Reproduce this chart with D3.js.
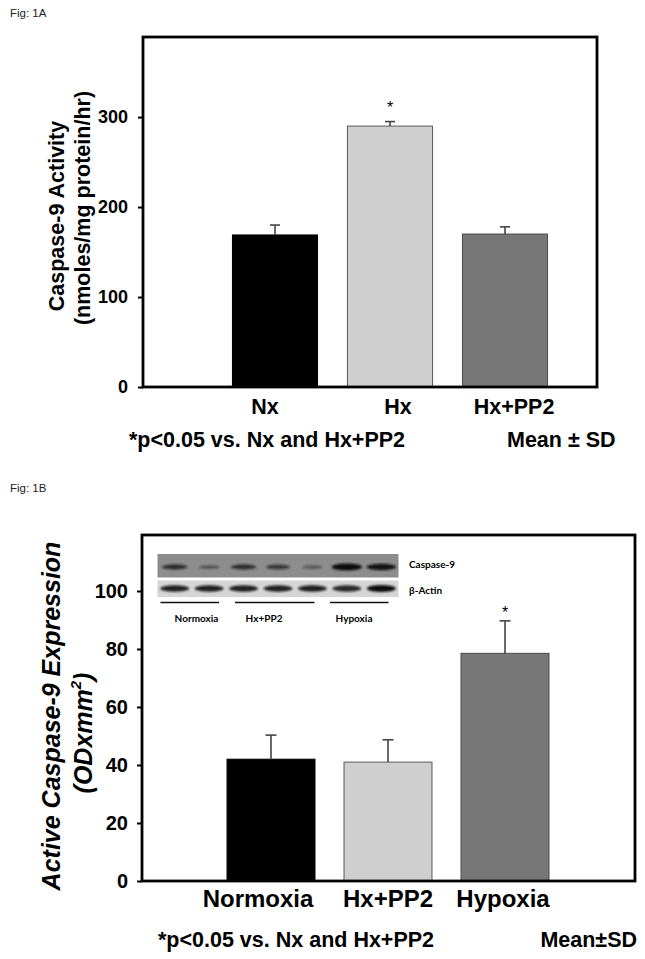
<!DOCTYPE html>
<html>
<head>
<meta charset="utf-8">
<script src="https://cdn.jsdelivr.net/npm/d3@7"></script>
<style>
  html, body { margin: 0; padding: 0; background: #fff; }
  svg { display: block; }
</style>
</head>
<body>
<svg id="chart" width="645" height="959"></svg>
<script>
// ---------- DATA ----------
// Figure 1A
const catsA = ["Nx", "Hx", "Hx+PP2"];
const meansA = [169, 290, 170];
const sdA = [11, 5, 8];
const sigA = [false, true, false];
const ticksA = [0, 100, 200, 300];

// Figure 1B
const catsB = ["Normoxia", "Hx+PP2", "Hypoxia"];
const meansB = [42, 41, 78.5];
const sdB = [8.3, 7.7, 11.2];
const sigB = [false, false, true];
const ticksB = [0, 20, 40, 60, 80, 100];

// Western blot inset (relative band intensities per lane)
const lanes = [1, 2, 3, 4, 5, 6, 7];
const caspaseBand = [0.65, 0.3, 0.65, 0.55, 0.25, 1.0, 0.95];
const actinBand = [0.9, 0.9, 0.9, 0.9, 0.9, 0.85, 1.0];
const laneGroups = ["Normoxia", "Hx+PP2", "Hypoxia"];
const blotRows = ["Caspase-9", "β-Actin"];

// ---------- DRAW ----------
const svg = d3.select("#chart");
const fills = ["#000000", "#cfcfcf", "#777777"];
const strokes = ["#000000", "#5a5a5a", "#4a4a4a"];
const fillsB = ["#000000", "#cfcfcf", "#777777"];

const defs = svg.append("defs");
defs.append("filter").attr("id", "blur").attr("x", "-30%").attr("y", "-100%").attr("width", "160%").attr("height", "300%")
  .append("feGaussianBlur").attr("stdDeviation", 1.1);

svg.append("text").attr("x", 10).attr("y", 17)
  .attr("font-family", "Liberation Sans, Arial, sans-serif").attr("font-size", 11.5)
  .attr("fill", "#222").text("Fig:  1A");
svg.append("text").attr("x", 10).attr("y", 492)
  .attr("font-family", "Liberation Sans, Arial, sans-serif").attr("font-size", 11.5)
  .attr("fill", "#222").text("Fig:  1B");

function barChart(o) {
  const g = svg.append("g");
  const y = d3.scaleLinear().domain(o.yDomain).range([o.bottom, o.top]);
  const x = d3.scaleBand().domain(o.cats).range(o.xRange)
    .paddingInner(o.padInner).paddingOuter(o.padInner / 2);

  // bars
  g.selectAll("rect.bar").data(o.cats).join("rect")
    .attr("class", "bar")
    .attr("x", d => x(d))
    .attr("width", x.bandwidth())
    .attr("y", (d, i) => y(o.means[i]))
    .attr("height", (d, i) => y(0) - y(o.means[i]))
    .attr("fill", (d, i) => o.fills[i])
    .attr("stroke", (d, i) => o.strokes[i])
    .attr("stroke-width", 1);

  // error bars (upper)
  const eb = g.selectAll("g.eb").data(o.cats).join("g").attr("class", "eb");
  eb.append("line")
    .attr("x1", d => x(d) + x.bandwidth() / 2).attr("x2", d => x(d) + x.bandwidth() / 2)
    .attr("y1", (d, i) => y(o.means[i])).attr("y2", (d, i) => y(o.means[i] + o.sd[i]))
    .attr("stroke", "#444").attr("stroke-width", 1.6);
  eb.append("line")
    .attr("x1", d => x(d) + x.bandwidth() / 2 - o.cap).attr("x2", d => x(d) + x.bandwidth() / 2 + o.cap)
    .attr("y1", (d, i) => y(o.means[i] + o.sd[i])).attr("y2", (d, i) => y(o.means[i] + o.sd[i]))
    .attr("stroke", "#444").attr("stroke-width", 1.6);

  // significance stars
  g.selectAll("text.star").data(o.cats.filter((d, i) => o.sig[i])).join("text")
    .attr("class", "star")
    .attr("x", d => x(d) + x.bandwidth() / 2)
    .attr("y", d => { const i = o.cats.indexOf(d); return y(o.means[i] + o.sd[i]) - o.starGap; })
    .attr("text-anchor", "middle")
    .attr("font-family", "Liberation Sans, Arial, sans-serif").attr("font-size", 16)
    .text("*");

  // frame
  g.append("rect").attr("x", o.left).attr("y", o.top)
    .attr("width", o.right - o.left).attr("height", o.bottom - o.top)
    .attr("fill", "none").attr("stroke", "#000").attr("stroke-width", 2.8);

  // y axis
  const ax = g.append("g").attr("transform", `translate(${o.left},0)`)
    .call(d3.axisLeft(y).tickValues(o.ticks).tickSize(5).tickPadding(o.tickPad).tickFormat(d3.format("d")));
  ax.select(".domain").remove();
  ax.selectAll(".tick line").attr("stroke", "#000").attr("stroke-width", 2);
  ax.selectAll(".tick text")
    .attr("font-family", "Liberation Sans, Arial, sans-serif")
    .attr("font-weight", "bold").attr("font-size", o.tickFont).attr("fill", "#000");

  // category labels
  g.selectAll("text.cat").data(o.cats).join("text")
    .attr("class", "cat")
    .attr("x", (d, i) => x(d) + x.bandwidth() / 2 + o.catDx[i])
    .attr("y", o.catY)
    .attr("text-anchor", "middle")
    .attr("font-family", "Liberation Sans, Arial, sans-serif")
    .attr("font-weight", "bold").attr("font-size", o.catFont)
    .text(d => d);

  return { x, y, g };
}

// ---- Figure 1A ----
const A = barChart({
  cats: catsA, means: meansA, sd: sdA, sig: sigA, ticks: ticksA,
  left: 143, right: 597, top: 37, bottom: 387,
  yDomain: [0, 389], xRange: [217.5, 562.5], padInner: 0.26,
  fills: fills, strokes: strokes, cap: 5, starGap: 9,
  tickPad: 10, tickFont: 18, catY: 414, catFont: 21.5, catDx: [-10, 8, 9]
});
const yLabA = svg.append("g").attr("font-family", "Liberation Sans, Arial, sans-serif")
  .attr("font-weight", "bold").attr("font-size", 21.5).attr("text-anchor", "middle");
yLabA.append("text").attr("transform", "translate(64,216) rotate(-90)").text("Caspase-9 Activity");
yLabA.append("text").attr("transform", "translate(90,208) rotate(-90)").text("(nmoles/mg protein/hr)");
svg.append("text").attr("x", 129).attr("y", 447)
  .attr("font-family", "Liberation Sans, Arial, sans-serif").attr("font-weight", "bold").attr("font-size", 21.5)
  .text("*p<0.05 vs. Nx and Hx+PP2");
svg.append("text").attr("x", 507).attr("y", 447)
  .attr("font-family", "Liberation Sans, Arial, sans-serif").attr("font-weight", "bold").attr("font-size", 21.5)
  .text("Mean ± SD");

// ---- Figure 1B ----
const B = barChart({
  cats: catsB, means: meansB, sd: sdB, sig: sigB, ticks: ticksB,
  left: 142, right: 635, top: 535, bottom: 881,
  yDomain: [0, 119.3], xRange: [212.5, 563.5], padInner: 0.248,
  fills: fillsB, strokes: strokes, cap: 5.5, starGap: 3,
  tickPad: 9, tickFont: 20, catY: 907, catFont: 24, catDx: [-13, 0, -2]
});
const yLabB = svg.append("g").attr("font-family", "Liberation Sans, Arial, sans-serif")
  .attr("font-weight", "bold").attr("font-style", "italic").attr("font-size", 25).attr("text-anchor", "middle");
yLabB.append("text").attr("transform", "translate(60,716) rotate(-90)").text("Active Caspase-9 Expression");
const t2 = yLabB.append("text").attr("transform", "translate(92,733) rotate(-90)");
t2.append("tspan").text("(ODxmm");
t2.append("tspan").attr("font-size", 15).attr("dy", -11).text("2");
t2.append("tspan").attr("dy", 11).text(")");
svg.append("text").attr("x", 158).attr("y", 947)
  .attr("font-family", "Liberation Sans, Arial, sans-serif").attr("font-weight", "bold").attr("font-size", 21.5)
  .text("*p<0.05 vs. Nx and Hx+PP2");
svg.append("text").attr("x", 637).attr("y", 947).attr("text-anchor", "end")
  .attr("font-family", "Liberation Sans, Arial, sans-serif").attr("font-weight", "bold").attr("font-size", 21.5)
  .text("Mean±SD");

// ---- Blot inset ----
const blot = svg.append("g");
const bx = d3.scaleBand().domain(lanes).range([157.5, 398.5]).paddingInner(0.2).paddingOuter(0.1);
const rowY = [554, 580.5], rowH = [23.5, 16.5], rowBg = ["#8d8d8d", "#d5d5d5"];
blot.selectAll("rect.strip").data(blotRows).join("rect")
  .attr("x", 157.5).attr("width", 241)
  .attr("y", (d, i) => rowY[i]).attr("height", (d, i) => rowH[i])
  .attr("fill", (d, i) => rowBg[i]);
blot.selectAll("ellipse.casp").data(lanes).join("ellipse")
  .attr("cx", d => bx(d) + bx.bandwidth() / 2)
  .attr("cy", 567)
  .attr("rx", (d, i) => bx.bandwidth() / 2 * (0.6 + 0.5 * caspaseBand[i]))
  .attr("ry", (d, i) => 1.2 + 2.2 * caspaseBand[i])
  .attr("fill", "#111").attr("opacity", (d, i) => 0.25 + 0.75 * caspaseBand[i])
  .attr("filter", "url(#blur)");
blot.selectAll("ellipse.act").data(lanes).join("ellipse")
  .attr("cx", d => bx(d) + bx.bandwidth() / 2)
  .attr("cy", 588.5)
  .attr("rx", (d, i) => bx.bandwidth() / 2 * 1.05)
  .attr("ry", (d, i) => 2 + 1.5 * actinBand[i])
  .attr("fill", "#111").attr("opacity", (d, i) => actinBand[i])
  .attr("filter", "url(#blur)");
blot.selectAll("text.row").data(blotRows).join("text")
  .attr("x", 409).attr("y", (d, i) => [568, 594][i])
  .attr("font-family", "Lato, Open Sans, sans-serif").attr("font-weight", "bold").attr("font-size", 10)
  .text(d => d);
const groupSpan = [[160.5, 219], [235, 314.5], [330, 388.5]];
blot.selectAll("line.grp").data(laneGroups).join("line")
  .attr("x1", (d, i) => groupSpan[i][0]).attr("x2", (d, i) => groupSpan[i][1])
  .attr("y1", 602.5).attr("y2", 602.5).attr("stroke", "#111").attr("stroke-width", 1.3);
blot.selectAll("text.grp").data(laneGroups).join("text")
  .attr("x", (d, i) => [196.5, 264, 354][i]).attr("y", 622)
  .attr("text-anchor", "middle")
  .attr("font-family", "Lato, Open Sans, sans-serif").attr("font-weight", "bold").attr("font-size", 10)
  .text(d => d);
</script>
</body>
</html>
